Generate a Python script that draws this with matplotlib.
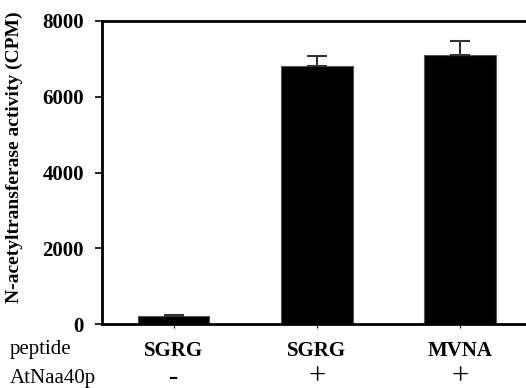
import matplotlib.pyplot as plt
from matplotlib.transforms import blended_transform_factory

# data
peptides = ["SGRG", "SGRG", "MVNA"]
enzyme = ["-", "+", "+"]
activity = [215, 6810, 7100]
errors = [30, 255, 380]
yticks = [0, 2000, 4000, 6000, 8000]

plt.rcParams["font.family"] = ["Liberation Serif", "DejaVu Serif"]

W, H = 526, 388
fig = plt.figure(figsize=(W / 100, H / 100), dpi=100)
ax = fig.add_axes([102 / W, 1 - 324 / H, 429.5 / W, 303 / H])

x = list(range(len(activity)))
ax.bar(x, activity, width=0.5, color="black", edgecolor="#555555", linewidth=0.8)
ax.errorbar(x, activity, yerr=[[0] * len(errors), errors], fmt="none",
            ecolor="#333333", elinewidth=1.5, capsize=7, capthick=1.5)

ax.set_xlim(-0.5, 2.5)
ax.set_ylim(0, 8000)
ax.set_yticks(yticks)
ax.set_yticklabels([str(t) for t in yticks], fontsize=15, fontweight="bold")
ax.set_xticks(x)
ax.set_xticklabels([])
ax.tick_params(axis="y", direction="out", length=5, width=1.2, pad=8)
ax.tick_params(axis="x", direction="out", length=3, width=0.8)
for s in ax.spines.values():
    s.set_linewidth(2)

fig.text(14 / W, 1 - 157 / H, "N-acetyltransferase activity (CPM)",
         fontsize=14, fontweight="bold", rotation=90, ha="center", va="center")

# rows of conditions under the axis
fig.text(10 / W, 1 - 354 / H, "peptide", fontsize=15, va="baseline", ha="left")
fig.text(10 / W, 1 - 383 / H, "AtNaa40p", fontsize=15, va="baseline", ha="left")

row = blended_transform_factory(ax.transData, fig.transFigure)
for xi, p, e in zip(x, peptides, enzyme):
    ax.text(xi, 1 - 356 / H, p, transform=row, fontsize=15, fontweight="bold",
            ha="center", va="baseline", clip_on=False)
    ax.text(xi, 1 - 384 / H, e, transform=row,
            fontsize=20 if e == "-" else 22, ha="center", va="baseline",
            clip_on=False)

fig.savefig("out.png", dpi=100)
